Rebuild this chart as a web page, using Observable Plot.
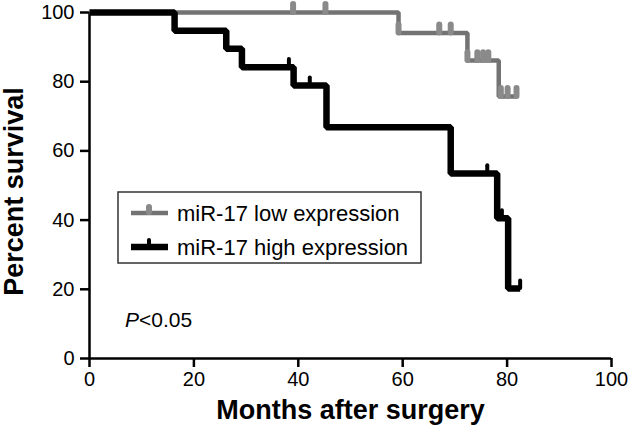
<!DOCTYPE html>
<html>
<head>
<meta charset="utf-8">
<script src="https://cdn.jsdelivr.net/npm/d3@7"></script>
<script src="https://cdn.jsdelivr.net/npm/@observablehq/plot@0.6"></script>
<style>
  html, body { margin: 0; padding: 0; background: white; }
  #wrap { position: relative; width: 630px; height: 438px; font-family: 'Liberation Sans', Arial, sans-serif; }
  #overlay { position: absolute; left: 0; top: 0; pointer-events: none; }
</style>
</head>
<body>
<div id="wrap"></div>
<script>
// Kaplan-Meier step data (months, percent survival)
const lowTimes = [0, 59.2, 72.4, 78.4, 81.8];
const lowSurv  = [100, 94.1, 86.1, 75.7, 75.7];
const lowCensorTimes = [39.0, 45.2, 59.2, 67.0, 69.2, 72.4, 74.3, 75.4, 76.4, 78.8, 80.1, 81.8];
const lowCensorSurv  = [100, 100, 94.1, 94.1, 94.1, 86.1, 86.1, 86.1, 86.1, 75.7, 75.7, 75.7];

const highTimes = [0, 16.3, 26.2, 29.2, 39.1, 45.4, 69.2, 78.1, 80.2, 82.5];
const highSurv  = [100, 94.7, 89.5, 84.2, 78.9, 66.8, 53.5, 40.5, 20.2, 20.2];
const highCensorTimes = [38.2, 42.2, 76.2, 79.0, 82.5];
const highCensorSurv  = [84.2, 78.9, 53.5, 40.5, 20.2];

const xTicks = [0, 20, 40, 60, 80, 100];
const yTicks = [0, 20, 40, 60, 80, 100];
const seriesNames = ["miR-17 low expression", "miR-17 high expression"];
const xTitle = "Months after surgery";
const yTitle = "Percent survival";

const low = lowTimes.map((t, i) => ({t, s: lowSurv[i]}));
const high = highTimes.map((t, i) => ({t, s: highSurv[i]}));
const lowCens = lowCensorTimes.map((t, i) => ({t, s: lowCensorSurv[i]}));
const highCens = highCensorTimes.map((t, i) => ({t, s: highCensorSurv[i]}));

const GRAY = "#737373", GRAY_MARK = "#8a8a8a", BLACK = "#000";

const chart = Plot.plot({
  width: 630, height: 438,
  marginLeft: 89, marginRight: 19, marginTop: 12, marginBottom: 80,
  x: {domain: [0, 100]},
  y: {domain: [0, 100]},
  style: {fontFamily: "'Liberation Sans', Arial, sans-serif", fontSize: "20px", color: "black", background: "white", overflow: "visible"},
  marks: [
    Plot.axisX({ticks: xTicks, tickSize: 9, tickPadding: 4, strokeWidth: 2.5, label: null, fontSize: 20}),
    Plot.axisY({ticks: yTicks, tickSize: 9, tickPadding: 6, strokeWidth: 2.5, label: null, fontSize: 20}),
    Plot.ruleY([0], {strokeWidth: 2.5}),
    Plot.ruleX([0], {strokeWidth: 2.5}),
    Plot.line(low, {x: "t", y: "s", curve: "step-after", stroke: GRAY, strokeWidth: 4.5, strokeLinejoin: "miter", strokeLinecap: "butt"}),
    Plot.ruleX(lowCens, {x: "t", y1: "s", y2: d => d.s + 2.3, stroke: GRAY_MARK, strokeWidth: 6, strokeLinecap: "round"}),
    Plot.line(high, {x: "t", y: "s", curve: "step-after", stroke: BLACK, strokeWidth: 6.5, strokeLinejoin: "miter", strokeLinecap: "butt"}),
    Plot.ruleX(highCens, {x: "t", y1: "s", y2: d => d.s + 2.2, stroke: BLACK, strokeWidth: 4, strokeLinecap: "round"}),
    Plot.text([xTitle], {frameAnchor: "bottom", dy: 60, fontSize: 27, fontWeight: "bold"}),
    Plot.text([yTitle], {frameAnchor: "left", textAnchor: "middle", rotate: -90, dx: -75, dy: 6, fontSize: 27, fontWeight: "bold"})
  ]
});
const wrap = document.getElementById("wrap");
wrap.appendChild(chart);

// Legend and annotation overlay
const ns = "http://www.w3.org/2000/svg";
const ov = document.createElementNS(ns, "svg");
ov.setAttribute("id", "overlay");
ov.setAttribute("width", 630);
ov.setAttribute("height", 438);
ov.innerHTML = `
  <rect x="118" y="192" width="303" height="71" fill="white" stroke="#333" stroke-width="1.5"/>
  <line x1="131" x2="168" y1="213" y2="213" stroke="${GRAY}" stroke-width="4.5"/>
  <line x1="149" x2="149" y1="212" y2="207" stroke="${GRAY_MARK}" stroke-width="6" stroke-linecap="round"/>
  <text x="177" y="220.5" font-size="22" fill="black">${seriesNames[0]}</text>
  <line x1="131" x2="168" y1="247" y2="247" stroke="${BLACK}" stroke-width="6.5"/>
  <line x1="149" x2="149" y1="246" y2="240" stroke="${BLACK}" stroke-width="4" stroke-linecap="round"/>
  <text x="177" y="254.5" font-size="22" fill="black">${seriesNames[1]}</text>
  <text x="125" y="327" font-size="21" fill="black"><tspan font-style="italic">P</tspan>&lt;0.05</text>
`;
ov.style.fontFamily = "'Liberation Sans', Arial, sans-serif";
wrap.appendChild(ov);
</script>
</body>
</html>
